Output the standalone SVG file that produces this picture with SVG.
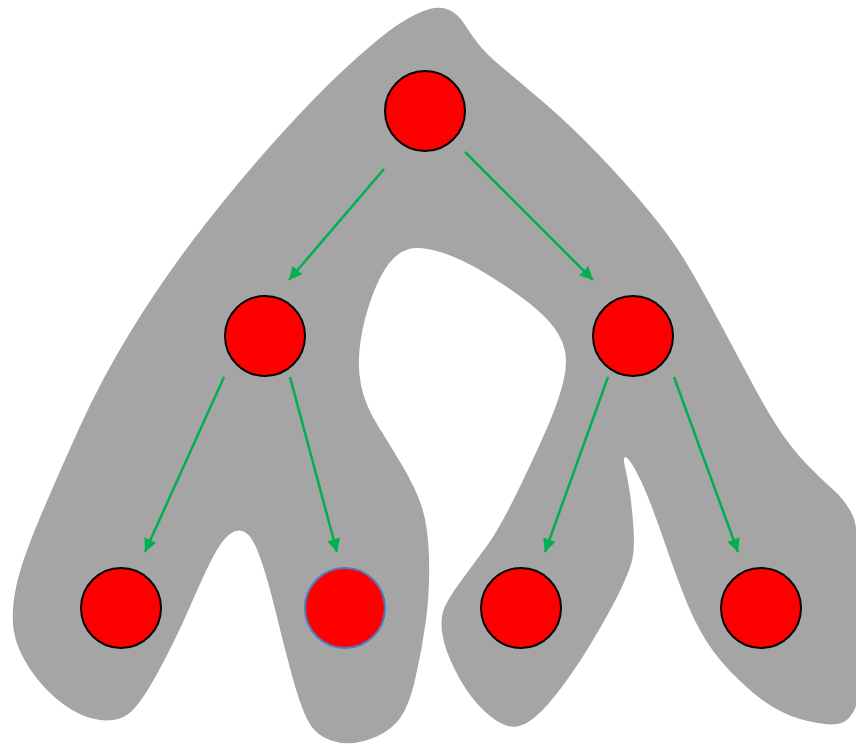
<svg xmlns="http://www.w3.org/2000/svg" width="856" height="745" viewBox="0 0 856 745">
  <style>
    .blob { fill: #A5A5A5; stroke: none; }
    .node { fill: #FF0000; stroke: #000000; stroke-width: 2; }
    .node.alt { stroke: #4F78BE; }
    .edge { stroke: #00B050; stroke-width: 2.5; fill: none; marker-end: url(#arrow); }
  </style>
  <defs>
    <marker id="arrow" viewBox="0 0 10 10" refX="10" refY="5" markerUnits="userSpaceOnUse" markerWidth="17" markerHeight="13" orient="auto">
      <path d="M0,0 L10,5 L0,10 z" fill="#00B050"/>
    </marker>
  </defs>

  <!-- grey backdrop shape -->
  <path class="blob" d="M429.5,9
    Q441,6 449.5,10 Q458,14 464,23.5 Q470,33 478,43.5 Q486,54 503,68 Q520,82 545,103.5
    Q570,125 597.5,153.5 Q625,182 649,211 Q673,240 688.5,266.5 Q704,293 720,323
    Q736,353 752,383 Q768,413 780.5,431.5 Q793,450 806.5,464 Q820,478 832.5,489
    Q845,500 852.5,515 Q860,530 861,610 Q862,690 856,706 Q850,722 837.5,724
    Q825,726 800,719 Q775,712 751,691 Q727,670 713.5,651.5 Q700,633 690,610
    Q680,587 665,543.5 Q650,500 641,481 Q632,462 627,458 Q622,454 625,467
    Q628,480 630,493.5 Q632,507 633.5,528.5 Q635,550 631.5,562.5 Q628,575 617.5,596
    Q607,617 590,645 Q573,673 556.5,694 Q540,715 527.5,722.5 Q515,730 502.5,724
    Q490,718 477.5,704 Q465,690 455,670 Q445,650 442.5,635 Q440,620 443.5,610
    Q447,600 461,581 Q475,562 487.5,545 Q500,528 520,486.5 Q540,445 550,421
    Q560,397 564,378.5 Q568,360 564,347 Q560,334 550,322.5 Q540,311 522.5,298
    Q505,285 482.5,271.5 Q460,258 440,252 Q420,246 409,249 Q398,252 389,263.5
    Q380,275 372,296.5 Q364,318 360.5,341.5 Q357,365 361,385 Q365,405 377.5,425
    Q390,445 402.5,466 Q415,487 421.5,506 Q428,525 429,557.5 Q430,590 426,620
    Q422,650 415,680 Q408,710 396.5,722.5 Q385,735 366,740.5 Q347,746 331,740.5
    Q315,735 307.5,720 Q300,705 292,675.5 Q284,646 276,613 Q268,580 260.5,558.5
    Q253,537 245.5,532.5 Q238,528 230,534 Q222,540 213.5,556 Q205,572 190,606.5
    Q175,641 157.5,673 Q140,705 129,713.5 Q118,722 100,720 Q82,718 63,704
    Q44,690 30,669 Q16,648 13.5,629 Q11,610 16.5,585 Q22,560 40,517.5
    Q58,475 79.5,427.5 Q101,380 130,332.5 Q159,285 195,237.5 Q231,190 273.5,142.5
    Q316,95 349.5,64.5 Q383,34 400.5,23 Q418,12 429.5,9 Z"/>

  <!-- connectors -->
  <g id="connectors">
    <line class="edge" x1="384" y1="169" x2="289" y2="280"/>
    <line class="edge" x1="465" y1="152" x2="593" y2="280"/>
    <line class="edge" x1="224" y1="377" x2="145" y2="552"/>
    <line class="edge" x1="290" y1="377" x2="337" y2="552"/>
    <line class="edge" x1="608" y1="377" x2="545" y2="552"/>
    <line class="edge" x1="674" y1="377" x2="738" y2="552"/>
  </g>

  <!-- tree nodes -->
  <g id="n-root"><circle class="node" cx="425" cy="111" r="40"/></g>
  <g id="n-left"><circle class="node" cx="265" cy="336" r="40"/></g>
  <g id="n-right"><circle class="node" cx="633" cy="336" r="40"/></g>
  <g id="n-left-left"><circle class="node" cx="121" cy="608" r="40"/></g>
  <g id="n-left-right"><circle class="node alt" cx="345" cy="608" r="40"/></g>
  <g id="n-right-left"><circle class="node" cx="521" cy="608" r="40"/></g>
  <g id="n-right-right"><circle class="node" cx="761" cy="608" r="40"/></g>
</svg>
